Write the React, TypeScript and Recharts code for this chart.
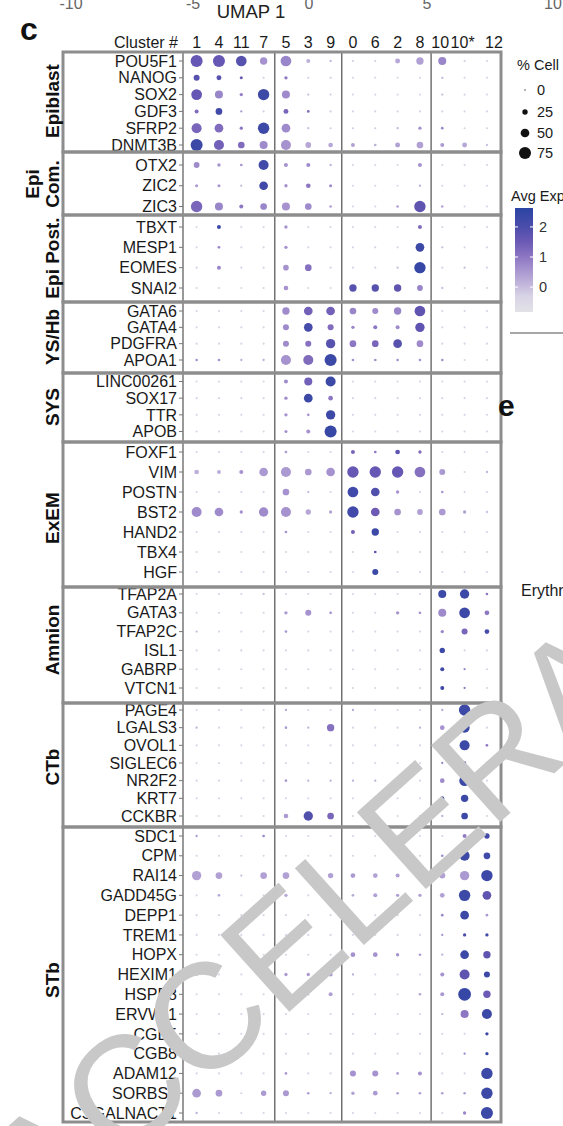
import { ScatterChart, Scatter, XAxis, YAxis, ReferenceLine } from "recharts";

// cluster order as printed in the header
const clusters = ["1", "4", "11", "7", "5", "3", "9", "0", "6", "2", "8", "10", "10*", "12"];

// ---- Epiblast
const epiblastGenes = ["POU5F1", "NANOG", "SOX2", "GDF3", "SFRP2", "DNMT3B"];
const epiblastPct = [
  [75, 75, 65, 40, 65, 15, 2, 1, 1, 22, 40, 45, 1, 1],
  [30, 22, 8, 1, 10, 1, 1, 1, 1, 1, 1, 2, 1, 1],
  [65, 45, 10, 70, 45, 2, 1, 1, 1, 1, 1, 2, 1, 1],
  [15, 35, 2, 1, 22, 5, 1, 1, 1, 1, 1, 1, 1, 1],
  [60, 50, 10, 70, 50, 2, 1, 1, 1, 2, 10, 5, 1, 1],
  [75, 60, 35, 45, 60, 28, 20, 15, 5, 22, 35, 15, 22, 2],
];
const epiblastExp = [
  [1.6, 1.6, 1.8, 0.6, 0.8, 0.2, 0.1, -0.2, -0.2, 0.3, 0.4, 0.8, -0.2, -0.3],
  [1.8, 1.8, 1.5, -0.2, 1.0, -0.2, -0.2, -0.3, -0.3, -0.3, -0.3, 0.2, -0.3, -0.3],
  [1.6, 0.8, 0.9, 2.3, 0.7, 0, -0.2, -0.3, -0.3, -0.3, -0.3, 0, -0.3, -0.3],
  [1.2, 2.2, 0.5, -0.2, 1.3, 1.2, -0.2, -0.3, -0.3, -0.3, -0.3, -0.3, -0.3, -0.3],
  [1.3, 1.2, 1.0, 2.3, 0.7, 0, -0.2, -0.2, -0.2, 0.1, 0.6, 0.8, -0.3, -0.3],
  [2.3, 1.4, 1.2, 0.7, 0.6, 0.3, 0.3, 0.4, 0.2, 0.4, 0.4, 0.5, 0.3, 0],
];

// ---- Epi Com.
const epiComGenes = ["OTX2", "ZIC2", "ZIC3"];
const epiComPct = [
  [28, 10, 5, 60, 15, 15, 2, 1, 1, 1, 15, 1, 1, 1],
  [8, 8, 2, 50, 10, 20, 8, 1, 1, 1, 2, 1, 1, 1],
  [70, 45, 15, 35, 45, 35, 5, 1, 1, 5, 70, 5, 1, 1],
];
const epiComExp = [
  [0.7, 0.6, 0.6, 2.2, 0.6, 0.7, 0.2, -0.3, -0.3, -0.3, 0.6, -0.3, -0.3, -0.3],
  [0.5, 0.5, 0, 2.2, 0.6, 1.0, 0.7, -0.3, -0.3, -0.3, 0.2, -0.3, -0.3, -0.3],
  [1.3, 0.8, 1.0, 0.8, 0.6, 0.7, 0.4, -0.3, -0.3, 0.4, 1.7, 0.3, -0.3, -0.3],
];

// ---- Epi Post.
const epiPostGenes = ["TBXT", "MESP1", "EOMES", "SNAI2"];
const epiPostPct = [
  [1, 15, 1, 1, 10, 1, 1, 1, 1, 1, 15, 1, 1, 1],
  [1, 5, 1, 1, 10, 1, 1, 1, 1, 1, 50, 2, 1, 1],
  [1, 15, 1, 1, 27, 35, 1, 1, 1, 2, 70, 1, 2, 1],
  [1, 1, 1, 1, 20, 1, 1, 40, 40, 40, 28, 2, 1, 1],
];
const epiPostExp = [
  [-0.3, 2.3, -0.3, -0.3, 0.6, -0.3, -0.3, -0.3, -0.3, -0.3, 1.2, -0.3, -0.3, -0.3],
  [-0.3, 0.8, -0.3, -0.3, 0.6, -0.3, -0.3, -0.3, -0.3, -0.3, 2.3, 0, -0.3, -0.3],
  [-0.3, 0.8, -0.3, -0.3, 0.6, 1.1, -0.3, -0.3, -0.3, 0, 2.4, -0.3, 0, -0.3],
  [-0.3, -0.3, -0.3, -0.3, 0.6, -0.3, -0.3, 1.8, 1.8, 1.7, 0.8, 0, -0.3, -0.3],
];

// ---- YS/Hb
const ysHbGenes = ["GATA6", "GATA4", "PDGFRA", "APOA1"];
const ysHbPct = [
  [1, 1, 1, 1, 40, 50, 50, 35, 30, 40, 65, 1, 1, 1],
  [1, 1, 1, 1, 30, 50, 30, 10, 15, 15, 55, 1, 1, 1],
  [1, 1, 1, 1, 30, 30, 55, 35, 35, 50, 35, 1, 1, 1],
  [5, 5, 2, 2, 60, 60, 75, 5, 5, 5, 5, 5, 1, 1],
];
const ysHbExp = [
  [-0.3, -0.3, -0.3, -0.3, 0.7, 1.4, 1.4, 0.8, 0.7, 0.8, 1.7, -0.3, -0.3, -0.3],
  [-0.3, -0.3, -0.3, -0.3, 0.7, 2.1, 1.2, 0.8, 1.0, 0.7, 1.7, -0.3, -0.3, -0.3],
  [-0.3, -0.3, -0.3, -0.3, 0.7, 1.1, 1.8, 1.0, 1.3, 1.8, 0.7, -0.3, -0.3, -0.3],
  [0.6, 0.6, 0.2, 0.2, 0.6, 1.2, 2.3, 0.6, 0.6, 0.6, 0.6, 0.6, -0.3, -0.3],
];

// ---- SYS
const sysGenes = ["LINC00261", "SOX17", "TTR", "APOB"];
const sysPct = [
  [1, 1, 1, 1, 15, 45, 60, 1, 1, 1, 1, 1, 1, 1],
  [1, 1, 1, 1, 10, 50, 20, 1, 1, 1, 1, 1, 1, 1],
  [1, 1, 1, 1, 10, 5, 55, 1, 1, 1, 1, 1, 1, 1],
  [1, 1, 1, 1, 8, 15, 75, 1, 1, 1, 1, 1, 1, 1],
];
const sysExp = [
  [-0.3, -0.3, -0.3, -0.3, 0.7, 1.4, 2.3, -0.3, -0.3, -0.3, -0.3, -0.3, -0.3, -0.3],
  [-0.3, -0.3, -0.3, -0.3, 0.7, 2.3, 1.0, -0.3, -0.3, -0.3, -0.3, -0.3, -0.3, -0.3],
  [-0.3, -0.3, -0.3, -0.3, 0.6, 0.6, 2.3, -0.3, -0.3, -0.3, -0.3, -0.3, -0.3, -0.3],
  [-0.3, -0.3, -0.3, -0.3, 0.6, 0.6, 2.4, -0.3, -0.3, -0.3, -0.3, -0.3, -0.3, -0.3],
];

// ---- ExEM
const exemGenes = ["FOXF1", "VIM", "POSTN", "BST2", "HAND2", "TBX4", "HGF"];
const exemPct = [
  [1, 1, 1, 1, 5, 1, 1, 15, 5, 20, 10, 1, 1, 1],
  [20, 15, 15, 50, 60, 35, 50, 70, 70, 70, 65, 30, 1, 2],
  [1, 1, 1, 1, 35, 2, 1, 65, 50, 10, 1, 5, 1, 1],
  [60, 50, 10, 55, 60, 25, 10, 70, 50, 35, 28, 35, 10, 2],
  [1, 1, 1, 1, 5, 1, 1, 15, 40, 1, 1, 1, 1, 1],
  [1, 1, 1, 1, 1, 1, 1, 1, 5, 1, 1, 1, 1, 1],
  [1, 1, 1, 1, 1, 1, 1, 1, 30, 1, 1, 1, 1, 1],
];
const exemExp = [
  [-0.3, -0.3, -0.3, -0.3, 0.5, -0.3, -0.3, 1.3, 1.0, 1.7, 1.2, -0.3, -0.3, -0.3],
  [0.2, 0.2, 0.6, 0.5, 0.5, 0.5, 0.6, 1.6, 1.6, 1.6, 1.1, 0.5, -0.3, 0.2],
  [-0.3, -0.3, -0.3, -0.3, 0.6, 0, -0.3, 2.2, 1.9, 0.6, -0.3, 0.5, -0.3, -0.3],
  [0.7, 0.7, 0.6, 0.7, 0.6, 0.3, 0.3, 2.2, 1.5, 0.6, 0.4, 0.5, 0.4, 0],
  [-0.3, -0.3, -0.3, -0.3, 0.6, -0.3, -0.3, 1.4, 2.3, -0.3, -0.3, -0.3, -0.3, -0.3],
  [-0.3, -0.3, -0.3, -0.3, -0.3, -0.3, -0.3, -0.3, 1.8, -0.3, -0.3, -0.3, -0.3, -0.3],
  [-0.3, -0.3, -0.3, -0.3, -0.3, -0.3, -0.3, -0.3, 2.3, -0.3, -0.3, -0.3, -0.3, -0.3],
];

// ---- Amnion
const amnionGenes = ["TFAP2A", "GATA3", "TFAP2C", "ISL1", "GABRP", "VTCN1"];
const amnionPct = [
  [1, 1, 1, 2, 1, 1, 1, 1, 1, 1, 1, 45, 55, 5],
  [1, 1, 1, 1, 10, 30, 5, 1, 1, 10, 5, 45, 65, 20],
  [2, 1, 1, 1, 5, 1, 1, 1, 1, 1, 1, 10, 30, 20],
  [1, 1, 1, 1, 1, 1, 1, 1, 1, 1, 1, 25, 1, 1],
  [1, 1, 1, 1, 1, 1, 1, 1, 1, 1, 1, 15, 2, 1],
  [1, 1, 1, 1, 1, 1, 1, 1, 1, 1, 1, 15, 2, 1],
];
const amnionExp = [
  [-0.3, -0.3, -0.3, 0, -0.3, -0.3, -0.3, -0.3, -0.3, -0.3, -0.3, 2.3, 2.3, 1.0],
  [-0.3, -0.3, -0.3, -0.3, 0.5, 0.6, 0.6, -0.3, -0.3, 0.6, 0.6, 0.7, 2.3, 1.0],
  [0, -0.3, -0.3, -0.3, 0.5, -0.3, -0.3, -0.3, -0.3, -0.3, -0.3, 0.8, 1.3, 2.1],
  [-0.3, -0.3, -0.3, -0.3, -0.3, -0.3, -0.3, -0.3, -0.3, -0.3, -0.3, 2.3, -0.3, -0.3],
  [-0.3, -0.3, -0.3, -0.3, -0.3, -0.3, -0.3, -0.3, -0.3, -0.3, -0.3, 2.2, 0.8, -0.3],
  [-0.3, -0.3, -0.3, -0.3, -0.3, -0.3, -0.3, -0.3, -0.3, -0.3, -0.3, 2.3, 0.9, -0.3],
];

// ---- CTb
const ctbGenes = ["PAGE4", "LGALS3", "OVOL1", "SIGLEC6", "NR2F2", "KRT7", "CCKBR"];
const ctbPct = [
  [1, 1, 1, 1, 2, 1, 1, 2, 1, 1, 1, 2, 70, 1],
  [2, 1, 1, 1, 5, 2, 40, 1, 1, 1, 2, 20, 60, 1],
  [1, 1, 1, 1, 1, 1, 1, 1, 1, 1, 1, 5, 60, 5],
  [1, 1, 1, 1, 1, 1, 1, 1, 1, 1, 1, 2, 10, 2],
  [1, 1, 1, 1, 5, 2, 2, 2, 2, 1, 1, 20, 65, 1],
  [1, 1, 1, 1, 1, 1, 1, 1, 1, 1, 1, 15, 40, 1],
  [1, 1, 1, 1, 20, 55, 35, 1, 1, 1, 1, 2, 35, 1],
];
const ctbExp = [
  [-0.3, -0.3, -0.3, -0.3, 0.3, -0.3, -0.3, 0.3, -0.3, -0.3, -0.3, 0.3, 2.3, -0.3],
  [0.2, -0.3, -0.3, -0.3, 0.5, 0.2, 1.1, -0.3, -0.3, -0.3, 0.2, 0.6, 2.3, -0.3],
  [-0.3, -0.3, -0.3, -0.3, -0.3, -0.3, -0.3, -0.3, -0.3, -0.3, -0.3, 0.6, 2.3, 1.0],
  [-0.3, -0.3, -0.3, -0.3, -0.3, -0.3, -0.3, -0.3, -0.3, -0.3, -0.3, 0.8, 2.2, 1.5],
  [-0.3, -0.3, -0.3, -0.3, 0.5, 0.2, 0.2, 0.2, 0.2, -0.3, -0.3, 0.7, 2.3, -0.3],
  [-0.3, -0.3, -0.3, -0.3, -0.3, -0.3, -0.3, -0.3, -0.3, -0.3, -0.3, 2.4, 2.3, -0.3],
  [-0.3, -0.3, -0.3, -0.3, 0.5, 1.9, 1.3, -0.3, -0.3, -0.3, -0.3, 0.2, 2.3, -0.3],
];

// ---- STb
const stbGenes = [
  "SDC1", "CPM", "RAI14", "GADD45G", "DEPP1", "TREM1", "HOPX", "HEXIM1",
  "HSPB8", "ERVW-1", "CGB5", "CGB8", "ADAM12", "SORBS1", "CSGALNACT1",
];
const stbPct = [
  [2, 1, 1, 5, 1, 1, 1, 1, 1, 1, 1, 1, 15, 25],
  [1, 1, 1, 1, 1, 1, 1, 1, 1, 1, 1, 5, 60, 35],
  [55, 35, 2, 35, 35, 30, 25, 20, 20, 15, 20, 30, 55, 70],
  [1, 5, 1, 1, 10, 1, 1, 5, 15, 10, 10, 20, 70, 50],
  [1, 1, 1, 1, 1, 1, 1, 1, 1, 1, 1, 5, 50, 5],
  [1, 1, 1, 1, 1, 1, 1, 1, 1, 1, 1, 2, 10, 10],
  [1, 1, 1, 1, 1, 1, 1, 20, 20, 10, 5, 2, 50, 40],
  [5, 1, 1, 1, 10, 10, 15, 2, 1, 1, 1, 15, 60, 30],
  [1, 1, 1, 1, 2, 2, 15, 1, 1, 1, 5, 15, 80, 40],
  [1, 1, 1, 1, 1, 1, 1, 1, 1, 1, 1, 2, 45, 60],
  [1, 1, 1, 1, 1, 1, 1, 1, 1, 1, 1, 1, 1, 10],
  [1, 1, 1, 1, 1, 1, 1, 1, 1, 1, 1, 1, 2, 10],
  [1, 1, 1, 1, 5, 1, 1, 30, 30, 5, 15, 1, 1, 70],
  [50, 35, 1, 25, 30, 5, 2, 10, 20, 5, 5, 5, 5, 70],
  [2, 1, 1, 1, 1, 1, 1, 1, 1, 1, 1, 1, 10, 75],
];
const stbExp = [
  [0.5, -0.3, -0.3, 0.8, -0.3, -0.3, -0.3, -0.3, -0.3, -0.3, -0.3, -0.3, 0.9, 2.2],
  [-0.3, -0.3, -0.3, -0.3, -0.3, -0.3, -0.3, -0.3, -0.3, -0.3, -0.3, 0.7, 2.3, 2.2],
  [0.4, 0.4, 0, 0.4, 0.4, 0.5, 0.4, 0.5, 0.4, 0.4, 0.4, 0.4, 0.5, 2.3],
  [-0.3, 0.3, -0.3, -0.3, 0.3, -0.3, -0.3, 0.3, 0.4, 0.4, 0.4, 0.4, 2.3, 1.7],
  [-0.3, -0.3, -0.3, -0.3, -0.3, -0.3, -0.3, -0.3, -0.3, -0.3, -0.3, 0.8, 2.3, 0.5],
  [-0.3, -0.3, -0.3, -0.3, -0.3, -0.3, -0.3, -0.3, -0.3, -0.3, -0.3, 0.6, 2.0, 2.2],
  [-0.3, -0.3, -0.3, -0.3, -0.3, -0.3, -0.3, 0.6, 0.6, 0.6, 0.5, 0.2, 2.3, 1.7],
  [0.4, -0.3, -0.3, -0.3, 0.5, 0.5, 0.5, 0.2, -0.3, -0.3, -0.3, 0.6, 1.7, 2.3],
  [-0.3, -0.3, -0.3, -0.3, 0.2, 0.2, 0.4, -0.3, -0.3, -0.3, 0.3, 0.5, 2.4, 1.5],
  [-0.3, -0.3, -0.3, -0.3, -0.3, -0.3, -0.3, -0.3, -0.3, -0.3, -0.3, 0.2, 1.0, 2.3],
  [-0.3, -0.3, -0.3, -0.3, -0.3, -0.3, -0.3, -0.3, -0.3, -0.3, -0.3, -0.3, -0.3, 2.3],
  [-0.3, -0.3, -0.3, -0.3, -0.3, -0.3, -0.3, -0.3, -0.3, -0.3, -0.3, -0.3, 0.8, 2.3],
  [-0.3, -0.3, -0.3, -0.3, 0.5, -0.3, -0.3, 0.6, 0.6, 0.5, 0.6, -0.3, -0.3, 2.3],
  [0.5, 0.5, -0.3, 0.5, 0.5, 0.4, 0.3, 0.4, 0.5, 0.4, 0.4, 0.4, 0.4, 2.3],
  [0.2, -0.3, -0.3, -0.3, -0.3, -0.3, -0.3, -0.3, -0.3, -0.3, -0.3, -0.3, 0.8, 2.3],
];

const sizeLegend = [0, 25, 50, 75];
const colorLegend = [2, 1, 0];

// layout of the stacked panels (page px): box edges and first / last row centre
const panels = [
  { label: ["Epiblast"], labelY: 101, genes: epiblastGenes, pct: epiblastPct, exp: epiblastExp, top: 52, bottom: 152, first: 61, last: 145 },
  { label: ["Epi", "Com."], labelY: 184, genes: epiComGenes, pct: epiComPct, exp: epiComExp, top: 152, bottom: 215, first: 165, last: 206.5 },
  { label: ["Epi Post."], labelY: 258, genes: epiPostGenes, pct: epiPostPct, exp: epiPostExp, top: 215, bottom: 302, first: 227, last: 288 },
  { label: ["YS/Hb"], labelY: 337, genes: ysHbGenes, pct: ysHbPct, exp: ysHbExp, top: 302, bottom: 373, first: 311, last: 360 },
  { label: ["SYS"], labelY: 407, genes: sysGenes, pct: sysPct, exp: sysExp, top: 373, bottom: 442, first: 381.5, last: 431.5 },
  { label: ["ExEM"], labelY: 518, genes: exemGenes, pct: exemPct, exp: exemExp, top: 442, bottom: 587, first: 452, last: 572 },
  { label: ["Amnion"], labelY: 640, genes: amnionGenes, pct: amnionPct, exp: amnionExp, top: 587, bottom: 703, first: 594, last: 688 },
  { label: ["CTb"], labelY: 767, genes: ctbGenes, pct: ctbPct, exp: ctbExp, top: 703, bottom: 827, first: 710, last: 816 },
  { label: ["STb"], labelY: 980, genes: stbGenes, pct: stbPct, exp: stbExp, top: 827, bottom: 1122, first: 836, last: 1113 },
];

const FONT = "'Liberation Sans', Arial, Helvetica, sans-serif";
const W = 563;
const H = 1126;
const PLOT_LEFT = 183;
const PLOT_RIGHT = 501;
const X_DOMAIN: [number, number] = [-0.61, 13.63];
const SEPARATORS = [3.5, 6.5, 10.5];
// the last header labels are set a little off-centre in the figure
const HEADER_NUDGE: Record<string, number> = { "10": -2, "10*": -2, "12": 7 };

const expStops: [number, string][] = [
  [-0.83, "#e3e2e8"],
  [-0.3, "#d8d3e5"],
  [0, "#c7bdde"],
  [0.5, "#ab99d1"],
  [1, "#8d77c3"],
  [1.5, "#6c5ab5"],
  [2, "#4b4dab"],
  [2.63, "#2b44a3"],
];

function hex(c: string) {
  return [1, 3, 5].map((i) => parseInt(c.slice(i, i + 2), 16));
}

function expColor(v: number) {
  if (v <= expStops[0][0]) return expStops[0][1];
  for (let i = 1; i < expStops.length; i++) {
    const [v1, c1] = expStops[i];
    if (v <= v1) {
      const [v0, c0] = expStops[i - 1];
      const t = (v - v0) / (v1 - v0);
      const a = hex(c0);
      const b = hex(c1);
      const m = a.map((x, k) => Math.round(x + (b[k] - x) * t));
      return `rgb(${m[0]},${m[1]},${m[2]})`;
    }
  }
  return expStops[expStops.length - 1][1];
}

// dot radius grows linearly with % of cells
function radius(pct: number) {
  return 1 + pct * 0.067;
}

function Dot(props: any) {
  const { cx, cy, payload } = props;
  if (cx == null || cy == null) return null;
  return <circle cx={cx} cy={cy} r={radius(payload.pct)} fill={expColor(payload.exp)} />;
}

function ClusterTick(props: any) {
  const { x, y, payload } = props;
  const label = clusters[payload.value];
  return (
    <text x={x + (HEADER_NUDGE[label] ?? 0)} y={y} textAnchor="middle" fontSize={16} fill="#1a1a1a" fontFamily={FONT}>
      {label}
    </text>
  );
}

function Panel({ p, header }: { p: (typeof panels)[number]; header: boolean }) {
  const n = p.genes.length;
  const step = (p.last - p.first) / (n - 1);
  const domain: [number, number] = [-(p.first - p.top) / step, n - 1 + (p.bottom - p.last) / step];
  const data: { x: number; y: number; pct: number; exp: number }[] = [];
  p.genes.forEach((_, i) =>
    clusters.forEach((__, j) => data.push({ x: j, y: i, pct: p.pct[i][j], exp: p.exp[i][j] }))
  );
  const headH = header ? p.top : 0;
  const axisH = 22;

  return (
    <div style={{ position: "absolute", left: 0, top: p.top - headH }}>
      <ScatterChart
        width={W}
        height={p.bottom - p.top + headH}
        margin={{ top: header ? headH - axisH : 0, right: W - PLOT_RIGHT, bottom: 0, left: 0 }}
      >
        <XAxis
          type="number"
          dataKey="x"
          domain={X_DOMAIN}
          allowDataOverflow
          orientation="top"
          hide={!header}
          height={axisH}
          ticks={clusters.map((_, i) => i)}
          interval={0}
          axisLine={false}
          tickLine={false}
          tickSize={0}
          tickMargin={4}
          tick={<ClusterTick />}
        />
        <YAxis
          type="number"
          dataKey="y"
          domain={domain}
          allowDataOverflow
          reversed
          width={PLOT_LEFT}
          ticks={p.genes.map((_, i) => i)}
          interval={0}
          tickFormatter={(v: number) => p.genes[v]}
          tickSize={4}
          tickMargin={2}
          axisLine={{ stroke: "#555", strokeWidth: 1.2 }}
          tickLine={{ stroke: "#777", strokeWidth: 1 }}
          tick={{ fontSize: 16, fill: "#1a1a1a", fontFamily: FONT }}
        />
        {SEPARATORS.map((x) => (
          <ReferenceLine key={x} x={x} stroke="#5c5c5c" strokeWidth={1.3} />
        ))}
        <Scatter data={data} shape={Dot} isAnimationActive={false} />
      </ScatterChart>
    </div>
  );
}

function Overlay() {
  const gradTop = 208;
  const gradBottom = 312;
  const eTop = 2.63;
  const eBottom = -0.83;
  const eToY = (e: number) => gradTop + ((eTop - e) / (eTop - eBottom)) * (gradBottom - gradTop);

  return (
    <svg
      width={W}
      height={H}
      style={{ position: "absolute", left: 0, top: 0, pointerEvents: "none" }}
      fontFamily={FONT}
    >
      <defs>
        <linearGradient id="expGrad" x1="0" y1="0" x2="0" y2="1">
          {expStops
            .slice()
            .reverse()
            .map(([e, c]) => (
              <stop key={e} offset={(eTop - e) / (eTop - eBottom)} stopColor={c} />
            ))}
        </linearGradient>
      </defs>

      {/* clipped UMAP axis of the panel above */}
      {[["-10", 71], ["-5", 193], ["0", 309], ["5", 427], ["10", 553]].map(([t, x]) => (
        <text key={t as string} x={x as number} y={9} fontSize={16} fill="#666" textAnchor="middle">
          {t}
        </text>
      ))}
      <text x={251} y={18} fontSize={18.5} fill="#222" textAnchor="middle">
        UMAP 1
      </text>

      <text x={20} y={40} fontSize={32} fontWeight="bold" fill="#111">
        c
      </text>
      <text x={178} y={48} fontSize={16} fill="#1a1a1a" textAnchor="end">
        Cluster #
      </text>

      {/* panel frames and group labels */}
      {panels.map((p) => (
        <g key={p.label.join(" ")}>
          <rect x={63} y={p.top} width={PLOT_RIGHT - 63} height={p.bottom - p.top} fill="none" stroke="#8d8d8d" strokeWidth={3} />
          {p.label.map((line, k) => {
            const x = p.label.length === 1 ? 52 : 32 + k * 20;
            return (
              <text
                key={line}
                transform={`translate(${x},${p.labelY}) rotate(-90)`}
                textAnchor="middle"
                dominantBaseline="central"
                fontSize={19}
                fontWeight="bold"
                fill="#111"
              >
                {line}
              </text>
            );
          })}
        </g>
      ))}

      {/* size legend */}
      <text x={517} y={70} fontSize={14.5} fill="#1a1a1a">
        % Cell
      </text>
      {sizeLegend.map((v, i) => {
        const y = [90, 112, 133, 153][i];
        return (
          <g key={v}>
            <circle cx={525} cy={y} r={v === 0 ? 1 : radius(v)} fill={v === 0 ? "#999" : "#111"} />
            <text x={537} y={y} dominantBaseline="central" fontSize={14.5} fill="#1a1a1a">
              {v}
            </text>
          </g>
        );
      })}

      {/* colour legend */}
      <text x={511} y={201} fontSize={14.5} fill="#1a1a1a">
        Avg Exp
      </text>
      <rect x={515} y={gradTop} width={18} height={gradBottom - gradTop} fill="url(#expGrad)" />
      {colorLegend.map((v) => (
        <g key={v}>
          <line x1={515} x2={518} y1={eToY(v)} y2={eToY(v)} stroke="#fff" strokeWidth={1} />
          <line x1={530} x2={533} y1={eToY(v)} y2={eToY(v)} stroke="#fff" strokeWidth={1} />
          <text x={539} y={eToY(v)} dominantBaseline="central" fontSize={14.5} fill="#333">
            {v}
          </text>
        </g>
      ))}
      <line x1={510} x2={563} y1={333} y2={333} stroke="#888" strokeWidth={1.5} />

      {/* neighbouring panel remnants */}
      <text x={498} y={416} fontSize={30} fontWeight="bold" fill="#111">
        e
      </text>
      <text x={521} y={596} fontSize={16} fill="#1a1a1a">
        Erythr
      </text>

      {/* watermark */}
      <text transform="translate(45,1232) rotate(-42)" fontSize={150} fill="#c8c8c8" fontFamily={FONT}>
        ACCELERATED ARTICLE PREVIEW
      </text>
    </svg>
  );
}

export default function App() {
  return (
    <div style={{ position: "absolute", left: 0, top: 0, width: W, height: H, overflow: "hidden", background: "#fff", fontFamily: FONT }}>
      {panels.map((p, i) => (
        <Panel key={p.label.join(" ")} p={p} header={i === 0} />
      ))}
      <Overlay />
    </div>
  );
}
